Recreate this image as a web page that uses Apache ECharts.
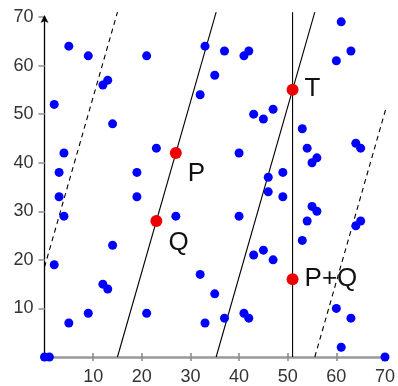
<!DOCTYPE html>
<html>
<head>
<meta charset="utf-8">
<script src="https://cdn.jsdelivr.net/npm/echarts@6/dist/echarts.min.js"></script>
<style>
html,body{margin:0;padding:0;background:#fff;}
#chart{width:398px;height:386px;}
</style>
</head>
<body>
<div id="chart"></div>
<script>
// Curve points (blue)
var curvePoints = [
  [0,0],[1,0],[70,0],
  [2,19],[2,52],[3,33],[3,38],[4,29],[4,42],[5,7],[5,64],
  [9,9],[9,62],[12,15],[12,56],[13,14],[13,57],[14,23],[14,48],
  [19,33],[19,38],[21,9],[21,62],[23,43],[27,29],
  [32,17],[32,54],[33,7],[33,64],[35,13],[35,58],[37,8],[37,63],
  [40,29],[40,42],[41,9],[41,62],[42,8],[42,63],[43,21],[43,50],
  [45,22],[45,49],[46,34],[46,37],[47,20],[47,51],[49,33],[49,38],
  [53,24],[53,47],[54,28],[54,43],[55,31],[55,40],[56,30],[56,41],
  [60,10],[60,61],[61,2],[61,69],[63,8],[63,63],[64,27],[64,44],[65,28],[65,43]
];
// Highlighted points (red)
var pointNames = ['P','Q','T','P+Q'];
var pointValues = [[27,42],[23,28],[51,55],[51,16]];
// Line segments
var solidLine1 = [[15,0],[35.29,71]];
var solidLine2 = [[35.29,0],[55.57,71]];
var dashedLine1 = [[0,18.5],[15,71]];
var dashedLine2 = [[55.57,0],[71,54]];
var verticalLine = [[51,0],[51,71]];
// Ticks
var tickValues = [10,20,30,40,50,60,70];

var font = 'Liberation Sans, Arial, sans-serif';
function lineSeries(data, dashed){
  return {type:'line', data:data, showSymbol:false, clip:false, silent:true, z:1,
    lineStyle:{color:'#000', width:1.1, type: dashed ? [5,4] : 'solid'}};
}
var labelOffsets = {'P':[0,21],'Q':[0,22],'T':[0,-1],'P+Q':[0,0]};
var redData = pointNames.map(function(n,i){
  return {name:n, value:pointValues[i], label:{show:true, formatter:n, position:'right', distance:6, offset:labelOffsets[n]}};
});
var labelFmt = function(v){ return tickValues.indexOf(v) >= 0 ? String(v) : ''; };
var chart = echarts.init(document.getElementById('chart'), null, {renderer:'canvas'});
chart.setOption({
  animation:false,
  backgroundColor:'#fff',
  grid:{left:44.5, right:11.3, top:17, bottom:27, containLabel:false},
  xAxis:[{
    type:'value', min:0, max:70, interval:10, position:'bottom',
    axisLine:{show:true, lineStyle:{color:'#999', width:2.5}},
    axisTick:{show:true, length:4, lineStyle:{color:'#888', width:1.5}},
    axisLabel:{show:true, formatter:labelFmt, showMinLabel:false, margin:11, fontSize:18, color:'#333', fontFamily:font},
    splitLine:{show:false}
  },{
    type:'value', min:0, max:70, interval:10, position:'bottom', offset:0,
    axisLine:{show:false},
    axisTick:{show:true, inside:true, length:4, lineStyle:{color:'#888', width:1.5}},
    axisLabel:{show:false}, splitLine:{show:false}
  }],
  yAxis:{
    type:'value', min:0, max:70, interval:10,
    axisLine:{show:true, symbol:['none','arrow'], symbolSize:[6,8], symbolOffset:[0,2], lineStyle:{color:'#000', width:1.3}},
    axisTick:{show:true, length:6, lineStyle:{color:'#aaa', width:2}},
    axisLabel:{show:true, formatter:labelFmt, showMinLabel:false, margin:11, fontSize:18, color:'#333', fontFamily:font},
    splitLine:{show:false}
  },
  series:[
    lineSeries(solidLine1,false),
    lineSeries(solidLine2,false),
    lineSeries(verticalLine,false),
    lineSeries(dashedLine1,true),
    lineSeries(dashedLine2,true),
    {type:'scatter', data:curvePoints, symbolSize:9, clip:false, z:3, itemStyle:{color:'#0000ff', opacity:1}},
    {type:'scatter', data:redData, symbolSize:12, clip:false, z:4, itemStyle:{color:'#ee0000', opacity:1},
      label:{fontSize:26, color:'#111', fontFamily:font}}
  ]
});
</script>
</body>
</html>
